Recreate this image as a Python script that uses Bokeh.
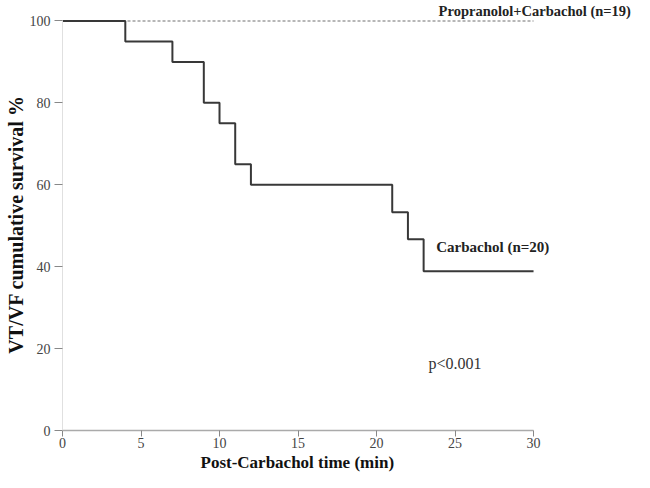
from bokeh.plotting import figure
from bokeh.models import Range1d, Label, FixedTicker, Title
from bokeh.embed import file_html
from bokeh.resources import INLINE

# Data
carb_time = [0, 4, 7, 9, 10, 11, 12, 21, 22, 23, 30]
carb_surv = [100, 95, 90, 80, 75, 65, 60, 53.3, 46.7, 38.9, 38.9]
prop_time = [0, 30]
prop_surv = [100, 100]
x_ticks = [0, 5, 10, 15, 20, 25, 30]
y_ticks = [0, 20, 40, 60, 80, 100]

FONT = "Liberation Serif"

# frame extends to the right edge so the in-plot labels beyond x=30 stay visible
p = figure(width=634, height=472, output_backend="svg", toolbar_location=None,
           x_range=Range1d(0, 36.43), y_range=Range1d(0, 100.6),
           min_border_left=62, min_border_right=0, min_border_top=18, min_border_bottom=42)
p.title.visible = False
p.outline_line_color = None
p.grid.visible = False

p.line(prop_time, prop_surv, line_color="#a0a0a0", line_width=1.5, line_dash="3 2")
p.step(carb_time, carb_surv, mode="after", line_color="#383838", line_width=2)

for ax in (p.xaxis[0], p.yaxis[0]):
    ax.major_label_text_font = FONT
    ax.major_label_text_font_size = "14px"
    ax.major_label_text_color = "#444444"
    ax.minor_tick_line_color = None
    ax.major_tick_in = 0
    ax.axis_label_text_font = FONT
    ax.axis_label_text_font_style = "bold"
    ax.axis_label_text_color = "#111111"

p.xaxis.ticker = FixedTicker(ticks=x_ticks)
p.yaxis.ticker = FixedTicker(ticks=y_ticks)
p.xaxis.bounds = (0, 30)
p.yaxis.bounds = (0, 100)
p.xaxis.axis_line_color = "#aaaaaa"
p.xaxis.axis_line_width = 1.5
p.xaxis.major_tick_line_color = "#888888"
p.xaxis.major_tick_out = 6
p.xaxis.major_label_standoff = 1
p.yaxis.axis_line_color = "#e0e0e0"
p.yaxis.major_tick_line_color = "#888888"
p.yaxis.major_tick_out = 8
p.yaxis.major_label_standoff = 4
p.yaxis.axis_label = "VT/VF cumulative survival %"
p.yaxis.axis_label_text_font_size = "20px"
p.yaxis.axis_label_standoff = 0

# x-axis title, placed under the 0-30 axis span
p.add_layout(Title(text="Post-Carbachol  time (min)", align="left", offset=138, standoff=0,
                   text_font=FONT, text_font_size="17px", text_font_style="bold",
                   text_color="#111111"), "below")
# top-right series label
p.add_layout(Title(text="Propranolol+Carbachol  (n=19)", align="right", offset=0, standoff=0,
                   text_font=FONT, text_font_size="14.5px", text_font_style="bold",
                   text_color="#222222"), "above")

p.add_layout(Label(x=23.8, y=44.76, text="Carbachol (n=20)", text_font=FONT,
                   text_font_size="15px", text_font_style="bold", text_color="#222222",
                   text_baseline="middle"))
p.add_layout(Label(x=23.31, y=16.4, text="p<0.001", text_font=FONT,
                   text_font_size="16px", text_color="#333333", text_baseline="middle"))

open("out.html", "w").write(file_html(p, INLINE))
